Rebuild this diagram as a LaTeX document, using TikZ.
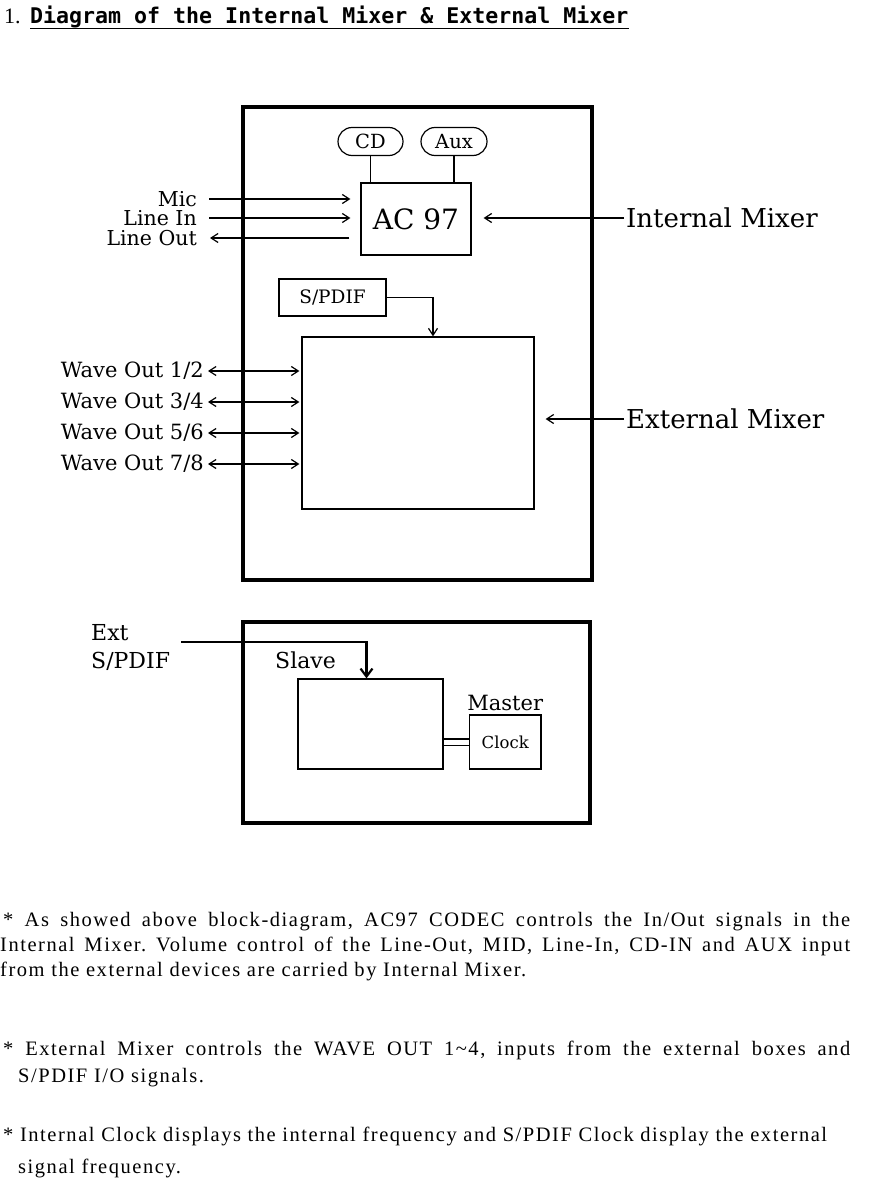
\documentclass[tikz,border=0pt]{standalone}
\usepackage{fontspec}
\usetikzlibrary{arrows.meta,positioning}
\newfontfamily\diagfont{DejaVu Serif}
\newfontfamily\notefont{Liberation Serif}[LetterSpace=7.5]
\newfontfamily\titlefont{DejaVu Sans Mono}
\newfontfamily\numfont{Liberation Serif}

\tikzset{
  outerbox/.style={draw, line width=3.5pt, inner sep=0pt},
  blockbox/.style={draw, line width=1.2pt, inner sep=0pt},
  pill/.style={draw, line width=1.2pt, rounded corners=14pt, minimum height=28pt,
    inner sep=0pt, font=\diagfont\fontsize{19.5}{21}\selectfont},
  lbl/.style={inner sep=0pt, font=\diagfont\fontsize{20.5}{22}\selectfont},
  biglbl/.style={inner sep=0pt, anchor=west, font=\diagfont\fontsize{26}{28}\selectfont},
  arr/.style={line width=1.2pt, ->},
  note/.style={anchor=base west, inner sep=0pt, font=\notefont\fontsize{20.5}{22}\selectfont\frenchspacing},
}

\begin{document}
\begin{tikzpicture}[x=1pt, y=-1pt, >={Straight Barb[length=7pt,width=9pt]}]

% Background
\fill[white] (0,0) rectangle (874,1198);
\useasboundingbox (0,0) rectangle (874,1198);

% Title
\node[anchor=base west, inner sep=0pt, font=\numfont\fontsize{22}{24}\selectfont] (num) at (4,24) {1.};
\node[anchor=base west, inner sep=0pt, font=\titlefont\bfseries\fontsize{21.6}{24}\selectfont] (title) at (30,24)
  {Diagram of the Internal Mixer \& External Mixer};
\draw[line width=1pt] ([yshift=-4.5pt]title.base west) -- ([yshift=-4.5pt]title.base east);

% Mixer board
\node[outerbox, minimum width=349pt, minimum height=473pt] (board) at (417.5,343.5) {};

% Internal mixer
\node[pill, minimum width=65pt] (cd) at (370.5,141.5) {CD};
\node[pill, minimum width=66pt] (aux) at (454,141.5) {Aux};
\node[blockbox, minimum width=110pt, minimum height=72pt,
  font=\diagfont\fontsize{28}{30}\selectfont] (ac97) at (416,219) {AC 97};
\draw[line width=1.2pt] (cd.south) -- (cd.south |- ac97.north);
\draw[line width=1.2pt] (aux.south) -- (aux.south |- ac97.north);

\node[lbl, anchor=east] (mic) at (197,199) {Mic};
\node[lbl, anchor=east] (linein) at (197,218) {Line In};
\node[lbl, anchor=east] (lineout) at (197,238) {Line Out};
\draw[arr, shorten <=12pt, shorten >=10pt] (mic.east) -- (mic.east -| ac97.west);
\draw[arr, shorten <=12pt, shorten >=10pt] (linein.east) -- (linein.east -| ac97.west);
\draw[arr, shorten <=11pt, shorten >=13pt] (lineout.east -| ac97.west) -- (lineout.east);

\node[biglbl] (intmix) at (626,218) {Internal Mixer};
\draw[arr, shorten >=12pt] ([xshift=-2pt]intmix.west) -- (intmix.west -| ac97.east);

% External mixer
\node[blockbox, minimum width=107pt, minimum height=37pt,
  font=\diagfont\fontsize{18.5}{20}\selectfont] (spdif) at (332.5,297.5) {S/PDIF};
\node[blockbox, minimum width=232pt, minimum height=172pt] (xmix) at (418,423) {};
\draw[arr] (spdif.east) -| ([xshift=15pt]xmix.north);

\foreach \a/\y in {1/371,3/402,5/433,7/464} {
  \pgfmathtruncatemacro{\b}{\a+1}
  \node[lbl, anchor=east, font=\diagfont\fontsize{21}{23}\selectfont] (wave\a) at (204,\y) {Wave Out \a/\b};
  \draw[arr, <->, shorten <=4pt, shorten >=2pt] (wave\a.east) -- (wave\a.east -| xmix.west);
}

\node[biglbl] (extmix) at (626,419) {External Mixer};
\draw[arr, shorten >=11pt] ([xshift=-2pt]extmix.west) -- (extmix.west -| xmix.east);

% Clock board
\node[outerbox, minimum width=347pt, minimum height=201pt] (clockboard) at (416.5,722.5) {};
\node[blockbox, minimum width=145pt, minimum height=90pt] (slave) at (370.5,724) {};
\node[blockbox, minimum width=71.5pt, minimum height=54pt,
  font=\diagfont\fontsize{16.5}{18}\selectfont] (clock) at (505.25,742) {Clock};
\node[lbl, font=\diagfont\fontsize{21}{23}\selectfont, above=3pt of clock] (master) {Master};
\node[lbl, anchor=west, font=\diagfont\fontsize{22}{24}\selectfont] (slavelbl) at (275,660) {Slave};
\node[lbl, anchor=north west, align=left, font=\diagfont\fontsize{22}{28}\selectfont] (extspdif) at (91,624) {Ext\\S/PDIF};
\draw[line width=2.2pt, -{Straight Barb[length=8pt,width=12pt]}]
  ([xshift=11pt,yshift=5.5pt]extspdif.east) -| ([xshift=-4pt]slave.north);
\draw[double, double distance=5pt, line width=1.2pt] (clock.west) -- (clock.west -| slave.east);

% Notes
\node[note] (note1) at (3,926) {\makebox[847pt][s]{* As showed above block-diagram, AC97 CODEC controls the In/Out signals in the}};
\node[note] (note2) at (0,951) {\makebox[850pt][s]{Internal Mixer. Volume control of the Line-Out, MID, Line-In, CD-IN and AUX input}};
\node[note] (note3) at (0,976) {from the external devices are carried by Internal Mixer.};
\node[note] (note4) at (3,1055) {\makebox[847pt][s]{* External Mixer controls the WAVE OUT 1\textasciitilde4, inputs from the external boxes and}};
\node[note] (note5) at (18,1082) {S/PDIF I/O signals.};
\node[note] (note6) at (3,1141) {* Internal Clock displays the internal frequency and S/PDIF Clock display the external};
\node[note] (note7) at (18,1173) {signal frequency.};

\end{tikzpicture}
\end{document}
